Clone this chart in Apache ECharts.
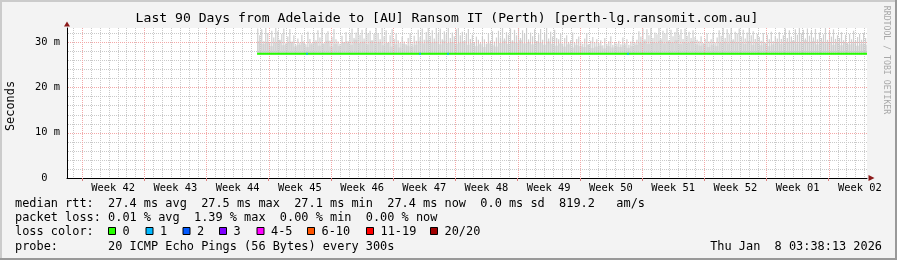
<!DOCTYPE html>
<html><head><meta charset="utf-8">
<script src="https://cdn.jsdelivr.net/npm/echarts@6/dist/echarts.min.js"></script>
<style>html,body{margin:0;padding:0;background:#f3f3f3;}#c{width:897px;height:260px;}</style>
</head><body><div id="c"></div>
<script>
// ---------------- data ----------------
const TITLE = 'Last 90 Days from Adelaide to [AU] Ransom IT (Perth) [perth-lg.ransomit.com.au]';
const weekLabels = ['Week 42','Week 43','Week 44','Week 45','Week 46','Week 47','Week 48','Week 49','Week 50','Week 51','Week 52','Week 01','Week 02'];
const yTicks = [0, 10, 20, 30];
// x axis unit: days since Monday 00:00 of week 42
const X_MIN = -1.69, X_MAX = 88.31;
const Y_MAX = 33.1;
const DATA_START = 19.7;
const smokeBase = 27.2;
// upper edge of the smoke (max ping, ms), one value per ~2px column
const smokeMax = [
33.0,31.5,32.8,30.2,33.1,32.0,29.8,32.5,31.0,33.2,
32.4,30.5,31.8,33.0,29.6,31.2,32.9,30.0,31.5,29.4,
30.8,29.9,31.6,30.2,29.5,32.3,30.7,29.8,31.9,30.4,
32.6,31.0,33.1,29.7,31.8,32.4,30.3,31.1,32.9,30.6,
30.1,29.6,31.4,30.0,32.2,29.8,31.7,33.0,30.9,32.1,
33.2,31.6,32.7,30.8,33.0,31.9,32.5,30.4,31.8,33.1,
32.0,30.6,33.2,31.3,32.6,29.9,31.5,32.8,30.7,31.9,
30.4,29.8,31.2,30.1,29.5,30.9,32.0,29.7,31.4,30.3,
32.7,31.1,33.0,30.5,32.2,33.1,31.4,32.6,30.8,33.2,
31.9,33.0,30.6,32.4,31.7,33.2,30.9,32.1,31.3,32.8,
33.1,31.5,32.3,30.2,31.8,32.9,30.7,31.6,29.9,31.2,
30.5,29.8,31.4,30.6,29.6,31.9,30.3,32.4,30.1,31.0,
32.5,31.0,33.1,30.8,32.2,31.6,33.0,30.4,32.7,31.5,
33.2,30.9,32.6,31.8,33.0,30.6,32.1,31.3,32.8,30.2,
31.7,32.9,30.5,31.9,33.1,30.8,32.3,31.2,32.7,30.9,
30.6,31.8,29.7,30.9,31.5,29.9,30.4,32.1,29.8,30.7,
31.2,30.1,29.6,30.8,32.0,29.5,30.3,31.1,29.9,30.6,
29.8,30.4,29.3,30.9,29.6,30.2,31.3,29.4,30.0,29.7,
30.3,29.5,31.0,29.8,30.6,29.4,30.1,31.4,29.9,30.5,
32.4,31.2,33.0,30.6,32.8,31.5,33.2,30.9,32.1,31.7,
33.1,30.8,32.5,31.9,33.0,30.4,32.7,31.3,32.2,33.2,
31.6,32.8,30.7,33.0,31.4,32.3,30.9,32.6,31.1,30.5,
30.2,31.3,29.8,30.7,31.9,30.1,30.6,32.0,29.9,31.0,
32.6,31.4,33.1,30.9,32.8,31.7,33.2,30.6,32.3,31.9,
33.0,31.2,32.7,30.8,32.1,33.1,31.5,32.4,30.7,31.8,
31.1,30.3,32.0,29.9,31.6,30.6,32.3,30.2,31.4,30.8,
32.2,30.7,31.5,33.0,30.9,32.6,31.2,30.4,32.8,31.6,
33.2,31.9,32.7,30.8,33.0,31.4,32.5,31.0,32.9,30.6,
32.1,30.9,31.7,33.1,30.5,32.4,31.2,32.8,30.7,31.5,
30.9,32.2,30.4,31.6,29.9,31.8,30.6,32.5,30.3,31.1,
31.8,30.5,32.0,30.9
];
// denser body of the smoke (ms), one value per ~4px column
const smokeBody = [
30.2,29.6,30.0,29.1,29.8,30.4,29.3,29.9,30.1,29.0,
29.4,29.8,28.9,29.5,30.0,29.2,29.7,30.3,29.0,29.6,
29.1,29.9,30.2,29.4,30.5,29.8,30.1,29.5,30.3,29.7,
30.0,29.3,29.8,29.0,29.5,28.8,29.6,29.2,28.9,29.4,
30.2,29.7,30.4,29.9,30.1,29.5,30.3,29.8,30.0,29.6,
29.9,30.2,29.4,29.8,29.1,29.5,28.9,29.7,29.3,29.0,
29.8,30.3,29.6,30.1,29.9,30.4,29.7,30.0,29.5,30.2,
29.9,29.4,30.1,29.6,29.2,29.7,29.0,29.5,28.8,29.3,
29.1,28.9,29.4,28.7,29.0,29.2,28.6,29.1,28.8,29.0,
28.9,29.3,28.7,29.1,29.4,29.9,30.2,29.6,30.0,29.8,
30.3,29.7,30.1,29.9,30.4,29.6,30.0,29.8,30.2,29.5,
29.2,29.6,28.9,29.4,29.1,29.8,30.1,29.7,30.3,29.9,
30.0,29.6,30.2,29.4,29.9,29.3,29.7,29.1,29.5,29.8,
29.6,30.1,29.8,30.3,29.7,30.0,30.4,29.9,30.2,29.5,
30.1,29.7,30.0,29.4,29.8,29.3,29.9,29.5,29.7,29.2,
29.6,29.4
];
const medianDays = [19.7, 88.31];
const medianRtt = [27.4, 27.4];
const loss1Days = [25.31, 38.02, 41.17, 61.42];
const rttStats = ['27.4', '27.5', '27.1', '27.4', '0.0', '819.2'];
const lossStats = ['0.01', '1.39', '0.00', '0.00'];
const lossLabels = ['0', '1', '2', '3', '4-5', '6-10', '11-19', '20/20'];
const lossColors = ['#26ff00', '#00b8ff', '#0059ff', '#7e00ff', '#ff00ff', '#ff5500', '#ff0000', '#a00000'];
const probeText = '20 ICMP Echo Pings (56 Bytes) every 300s';
const stampText = 'Thu Jan  8 03:38:13 2026';

// ---------------- layout ----------------
const MONO = '"DejaVu Sans Mono", monospace';
const weekStarts = weekLabels.map((_, i) => i * 7);
const weekMids = weekLabels.map((_, i) => i * 7 + 3.5);
const MINOR_COLOR = '#c9c9c9', MAJOR_COLOR = '#f3a8a8';

const vMinor = [], vMajor = [], hMinor = [], hMajor = [];
for (let d = Math.ceil(X_MIN); d <= Math.floor(X_MAX); d++) {
  (weekStarts.indexOf(d) >= 0 ? vMajor : vMinor).push([d, 0]);
}
for (let v = 2; v < Y_MAX; v += 2) {
  (yTicks.indexOf(v) >= 0 ? hMajor : hMinor).push([X_MIN, v]);
}

function gridSeries(name, items, horizontal, color, z) {
  return {
    type: 'custom', name: name, data: items, encode: {x: 0, y: 1}, clip: false, z: z, silent: true,
    renderItem: function (params, api) {
      const cs = params.coordSys;
      const p = api.coord([api.value(0), api.value(1)]);
      const style = {stroke: color, fill: null, lineWidth: 1, lineDash: [1, 1]};
      if (horizontal) {
        const y = Math.round(p[1]) + 0.5;
        return {type: 'line', shape: {x1: cs.x + 1, y1: y, x2: cs.x + cs.width, y2: y}, style: style};
      }
      const x = Math.round(p[0]) + 0.5;
      return {type: 'line', shape: {x1: x, y1: cs.y, x2: x, y2: cs.y + cs.height}, style: style};
    }
  };
}

const stepMax = (X_MAX - DATA_START) / smokeMax.length;
const stepBody = (X_MAX - DATA_START) / smokeBody.length;
const maxData = smokeMax.map((v, i) => [DATA_START + i * stepMax, smokeBase, v, stepMax * 0.6]);
const bodyData = smokeBody.map((v, i) => [DATA_START + i * stepBody, smokeBase, v, stepBody]);

function smokeRender(color) {
  return function (params, api) {
    const x = api.value(0), lo = api.value(1), hi = api.value(2), w = api.value(3);
    const a = api.coord([x, hi]), b = api.coord([x + w, lo]);
    return {type: 'rect', shape: {x: a[0], y: a[1], width: b[0] - a[0], height: b[1] - a[1]}, style: {fill: color}};
  };
}

function txt(text, x, y, size, align, extra) {
  return Object.assign({
    type: 'text', x: x, y: y, silent: true,
    style: {text: text, font: size + 'px ' + MONO, fill: (extra && extra.fill) || '#000',
      align: align || 'left', textAlign: align || 'left', verticalAlign: 'middle', textVerticalAlign: 'middle'}
  }, extra && extra.rotation != null ? {rotation: extra.rotation} : {});
}

const L1 = 'median rtt:  ' + rttStats[0] + ' ms avg  ' + rttStats[1] + ' ms max  ' + rttStats[2] + ' ms min  ' +
  rttStats[3] + ' ms now  ' + rttStats[4] + ' ms sd  ' + rttStats[5] + '   am/s';
const L2 = 'packet loss: ' + lossStats[0] + ' % avg  ' + lossStats[1] + ' % max  ' + lossStats[2] + ' % min  ' + lossStats[3] + ' % now';
const boxX = [108, 145.5, 182.5, 219, 256.5, 307, 366, 430];

const graphics = [
  {type: 'rect', silent: true, shape: {x: 0, y: 0, width: 897, height: 2}, style: {fill: '#cbcbcb'}},
  {type: 'rect', silent: true, shape: {x: 0, y: 0, width: 2, height: 260}, style: {fill: '#cbcbcb'}},
  {type: 'rect', silent: true, shape: {x: 0, y: 258, width: 897, height: 2}, style: {fill: '#999999'}},
  {type: 'rect', silent: true, shape: {x: 895, y: 0, width: 2, height: 260}, style: {fill: '#999999'}},
  txt(TITLE, 447, 19, 13.1, 'center'),
  txt('Seconds', 11, 106, 11.9, 'center', {rotation: Math.PI / 2}),
  txt('RRDTOOL / TOBI OETIKER', 886, 60, 8.2, 'center', {rotation: -Math.PI / 2, fill: '#a8a8a8'}),
  txt(L1, 15, 204, 11.9),
  txt(L2, 15, 218.3, 11.9),
  txt('loss color:', 15, 231.7, 11.9),
  txt('probe:       ' + probeText, 15, 246.7, 11.9),
  txt(stampText, 882, 246.7, 11.9, 'right')
];
lossLabels.forEach((lab, i) => {
  graphics.push({type: 'rect', silent: true, shape: {x: boxX[i] + 0.5, y: 227.5, width: 7, height: 7}, style: {fill: lossColors[i], stroke: '#000', lineWidth: 1}});
  graphics.push(txt(lab, boxX[i] + 14.5, 231.7, 11.9));
});

const chart = echarts.init(document.getElementById('c'), null, {renderer: 'canvas'});
chart.setOption({
  animation: false,
  backgroundColor: '#f3f3f3',
  grid: {left: 67, right: 30, top: 28, bottom: 82, show: true, backgroundColor: '#ffffff', borderWidth: 0, containLabel: false, outerBoundsMode: 'none'},
  xAxis: [{
    type: 'value', min: X_MIN, max: X_MAX, position: 'bottom', z: 20,
    axisLine: {show: true, onZero: false, lineStyle: {color: '#000', width: 1}},
    axisTick: {show: true, customValues: weekStarts, length: 3, lineStyle: {color: '#d88080'}},
    axisLabel: {show: true, customValues: weekMids, margin: 5, color: '#000', fontFamily: MONO, fontSize: 10.4,
      formatter: v => weekLabels[Math.round((v - 3.5) / 7)]},
    splitLine: {show: false}
  }, {
    type: 'value', min: X_MIN, max: X_MAX, show: true, position: 'bottom', z: 21,
    axisLine: {show: true, onZero: false, symbol: ['none', 'triangle'], symbolSize: [6, 6], symbolOffset: [0, 4.5], lineStyle: {color: '#8b1a1a', width: 0}},
    axisTick: {show: false}, axisLabel: {show: false}, splitLine: {show: false}
  }],
  yAxis: [{
    type: 'value', min: 0, max: Y_MAX, interval: 10, position: 'left', z: 20,
    axisLine: {show: true, onZero: false, lineStyle: {color: '#000', width: 1}},
    axisTick: {show: false},
    axisLabel: {margin: 7, color: '#000', fontFamily: MONO, fontSize: 10.4,
      formatter: v => (yTicks.indexOf(v) < 0 ? '' : (v === 0 ? '0  ' : v + ' m'))},
    splitLine: {show: false}
  }, {
    type: 'value', min: 0, max: Y_MAX, show: true, position: 'left', z: 21,
    axisLine: {show: true, onZero: false, symbol: ['none', 'triangle'], symbolSize: [6, 5], symbolOffset: [0, 4], lineStyle: {color: '#8b1a1a', width: 0}},
    axisTick: {show: false}, axisLabel: {show: false}, splitLine: {show: false}
  }],
  series: [
    {type: 'custom', name: 'smokeBody', renderItem: smokeRender('#e2e2e2'), data: bodyData, encode: {x: 0, y: [1, 2]}, clip: true, z: 2, silent: true},
    {type: 'custom', name: 'smokeMax', renderItem: smokeRender('#cfcfcf'), data: maxData, encode: {x: 0, y: [1, 2]}, clip: true, z: 3, silent: true},
    gridSeries('vMinor', vMinor, false, MINOR_COLOR, 5),
    gridSeries('hMinor', hMinor, true, MINOR_COLOR, 5),
    gridSeries('vMajor', vMajor, false, MAJOR_COLOR, 6),
    gridSeries('hMajor', hMajor, true, MAJOR_COLOR, 6),
    {type: 'line', name: 'median', data: medianDays.map((d, i) => [d, medianRtt[i]]), symbol: 'none',
      lineStyle: {color: '#26ff00', width: 2}, z: 10, silent: true},
    {type: 'scatter', name: 'loss1', data: loss1Days.map(d => [d, medianRtt[0]]), symbol: 'rect', symbolSize: [2, 2],
      itemStyle: {color: '#00b8ff'}, z: 11, silent: true}
  ],
  graphic: graphics
});
</script></body></html>
